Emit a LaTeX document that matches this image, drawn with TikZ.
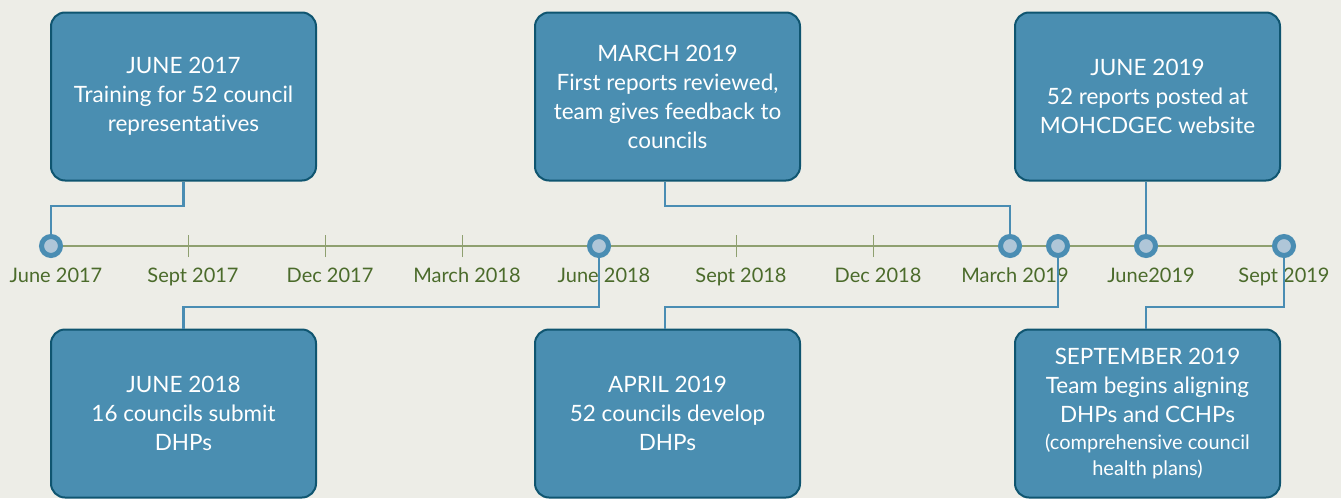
\documentclass[tikz,border=0pt]{standalone}
\usepackage{fontspec}
\setmainfont[Ligatures=NoCommon]{Lato}
\begin{document}
\definecolor{bgc}{HTML}{EDEDE7}
\definecolor{boxfill}{HTML}{4A8EB1}
\definecolor{boxedge}{HTML}{0F5570}
\definecolor{ringc}{HTML}{4A8DB3}
\definecolor{dotin}{HTML}{AFC6D8}
\definecolor{axisc}{HTML}{8FA070}
\definecolor{labc}{HTML}{4B6B2B}
\begin{tikzpicture}[x=1pt,y=-1pt,
  evbox/.style={rectangle, rounded corners=14pt, draw=boxedge, line width=2pt,
    fill=boxfill, text=white, align=center, minimum width=265pt,
    minimum height=168pt, inner sep=0pt,
    font=\fontsize{22.5}{29}\selectfont},
  conn/.style={draw=ringc, line width=2.6pt},
  dot/.style={circle, draw=ringc, fill=dotin, line width=5pt,
    minimum size=19pt, inner sep=0pt},
  tick/.style={draw=axisc, line width=1pt},
  datelab/.style={text=labc, anchor=base, inner sep=0pt,
    font=\fontsize{20}{24}\selectfont}]
  % canvas
  \fill[bgc] (0,0) rectangle (1341,498);
  \useasboundingbox (0,0) rectangle (1341,498);

  % event boxes
  \node[evbox] (b1) at (183.5,96.5) {JUNE 2017\\Training for 52 council\\representatives};
  \node[evbox] (b2) at (667.5,96.5) {MARCH 2019\\First reports reviewed,\\team gives feedback to\\councils};
  \node[evbox] (b3) at (1147.5,96.5) {JUNE 2019\\52 reports posted at\\MOHCDGEC website};
  \node[evbox] (b4) at (183.5,413.5) {JUNE 2018\\16 councils submit\\DHPs};
  \node[evbox] (b5) at (667.5,413.5) {APRIL 2019\\52 councils develop\\DHPs};
  \node[evbox] (b6) at (1147.5,413.5) {SEPTEMBER 2019\\Team begins aligning\\DHPs and CCHPs\\[-2pt]{\fontsize{20}{26}\selectfont(comprehensive council}\\[-3pt]{\fontsize{20}{26}\selectfont health plans)}};

  % time axis
  \coordinate (p1) at (51,246);
  \coordinate (p2) at (599,246);
  \coordinate (p3) at (1010,246);
  \coordinate (p4) at (1058,246);
  \coordinate (p5) at (1146,246);
  \coordinate (p6) at (1284,246);
  \coordinate (t1) at (188,246);
  \coordinate (t2) at (325,246);
  \coordinate (t3) at (462,246);
  \coordinate (t4) at (736,246);
  \coordinate (t5) at (873,246);
  \draw[axisc, line width=1.5pt] (p1) -- (p6);
  \foreach \t in {t1,t2,t3,t4,t5}
    \draw[tick] ([yshift=-11pt]\t) -- ([yshift=11pt]\t);

  % axis labels
  \node[datelab] (l1) at (56,282) {June 2017};
  \node[datelab] (l2) at (193,282) {Sept 2017};
  \node[datelab] (l3) at (330,282) {Dec 2017};
  \node[datelab] (l4) at (467,282) {March 2018};
  \node[datelab] (l5) at (604,282) {June 2018};
  \node[datelab] (l6) at (741,282) {Sept 2018};
  \node[datelab] (l7) at (878,282) {Dec 2018};
  \node[datelab] (l8) at (1015,282) {March 2019};
  \node[datelab] (l9) at (1151,282) {June2019};
  \node[datelab] (l10) at (1284,282) {Sept 2019};

  % connectors from boxes to their dates
  \draw[conn] (b1.south) -- (b1.south |- 0,206) -| (p1);
  \draw[conn] ([xshift=-2.5pt]b2.south) -- ([xshift=-2.5pt]b2.south |- 0,206) -| (p3);
  \draw[conn] (p5 |- b3.south) -- (p5);
  \draw[conn] (p2) -- (p2 |- 0,307) -| (b4.north);
  \draw[conn] (p4) -- (p4 |- 0,307) -| ([xshift=-2.5pt]b5.north);
  \draw[conn] (p6) -- (p6 |- 0,307) -| ([xshift=-1.5pt]b6.north);

  % date markers
  \node[dot] (c1) at (p1) {};
  \node[dot] (c2) at (p2) {};
  \node[dot] (c3) at (p3) {};
  \node[dot] (c4) at (p4) {};
  \node[dot] (c5) at (p5) {};
  \node[dot] (c6) at (p6) {};
\end{tikzpicture}
\end{document}
